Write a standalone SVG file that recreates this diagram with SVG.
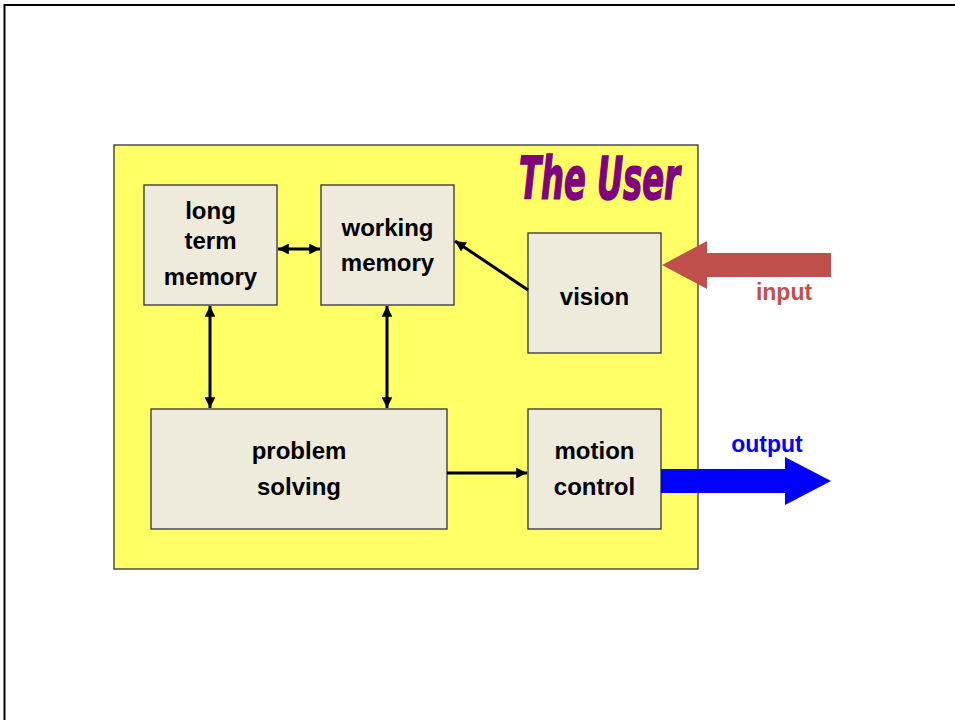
<svg xmlns="http://www.w3.org/2000/svg" width="955" height="720" viewBox="0 0 955 720">
<style>
.node{fill:#EEEBDC;stroke:#333;stroke-width:1.3}
.lbl{font-family:"Liberation Sans",Arial,sans-serif;font-weight:bold;font-size:24px;fill:#000;text-anchor:middle}
.con{stroke:#000;stroke-width:3;fill:none}
</style>
<defs>
<marker id="ah" viewBox="0 0 10 10" refX="10" refY="5" markerWidth="4.3" markerHeight="3.6" orient="auto-start-reverse" markerUnits="strokeWidth">
<path d="M0,0 L10,5 L0,10 z" fill="#000"/>
</marker>
</defs>
<rect x="0" y="0" width="955" height="720" fill="#fff"/>
<rect x="4.5" y="5" width="960" height="730" fill="none" stroke="#000" stroke-width="2"/>
<g id="user">
<rect x="114" y="145" width="584" height="424" fill="#FFFF66" stroke="#333" stroke-width="1.3"/>
<text x="519" y="199" textLength="161" lengthAdjust="spacingAndGlyphs" font-family="DejaVu Sans Condensed, DejaVu Sans, sans-serif" font-weight="bold" font-style="italic" font-size="58" fill="#800080" stroke="#800080" stroke-width="1.5">The User</text>
</g>
<g id="ltm">
<rect class="node" x="144" y="185" width="133" height="120"/>
<text class="lbl" x="210.5" y="219">long</text>
<text class="lbl" x="210.5" y="249">term</text>
<text class="lbl" x="210.5" y="285">memory</text>
</g>
<g id="wm">
<rect class="node" x="321" y="185" width="133" height="120"/>
<text class="lbl" x="387.5" y="236">working</text>
<text class="lbl" x="387.5" y="271">memory</text>
</g>
<g id="vision">
<rect class="node" x="528" y="233" width="133" height="120"/>
<text class="lbl" x="594.5" y="305">vision</text>
</g>
<g id="ps">
<rect class="node" x="151" y="409" width="296" height="120"/>
<text class="lbl" x="299" y="459">problem</text>
<text class="lbl" x="299" y="495">solving</text>
</g>
<g id="mc">
<rect class="node" x="528" y="409" width="133" height="120"/>
<text class="lbl" x="594.5" y="459">motion</text>
<text class="lbl" x="594.5" y="495">control</text>
</g>
<g id="connectors">
<line class="con" x1="278" y1="249" x2="320" y2="249" marker-start="url(#ah)" marker-end="url(#ah)"/>
<line class="con" x1="528" y1="290" x2="455" y2="241" marker-end="url(#ah)"/>
<line class="con" x1="210" y1="306" x2="210" y2="408" marker-start="url(#ah)" marker-end="url(#ah)"/>
<line class="con" x1="387" y1="306" x2="387" y2="408" marker-start="url(#ah)" marker-end="url(#ah)"/>
<line class="con" x1="447" y1="473" x2="527" y2="473" marker-end="url(#ah)"/>
</g>
<g id="input">
<polygon points="662,265 707,241 707,253 831,253 831,277 707,277 707,289" fill="#C0504D"/>
<text x="784" y="300" font-family="Liberation Sans,Arial,sans-serif" font-weight="bold" font-size="23" fill="#C0504D" text-anchor="middle">input</text>
</g>
<g id="output">
<polygon points="661,469 785,469 785,457 831,481 785,505 785,493 661,493" fill="#0000FF"/>
<text x="767" y="452" font-family="Liberation Sans,Arial,sans-serif" font-weight="bold" font-size="23" fill="#0000FF" text-anchor="middle">output</text>
</g>
</svg>
